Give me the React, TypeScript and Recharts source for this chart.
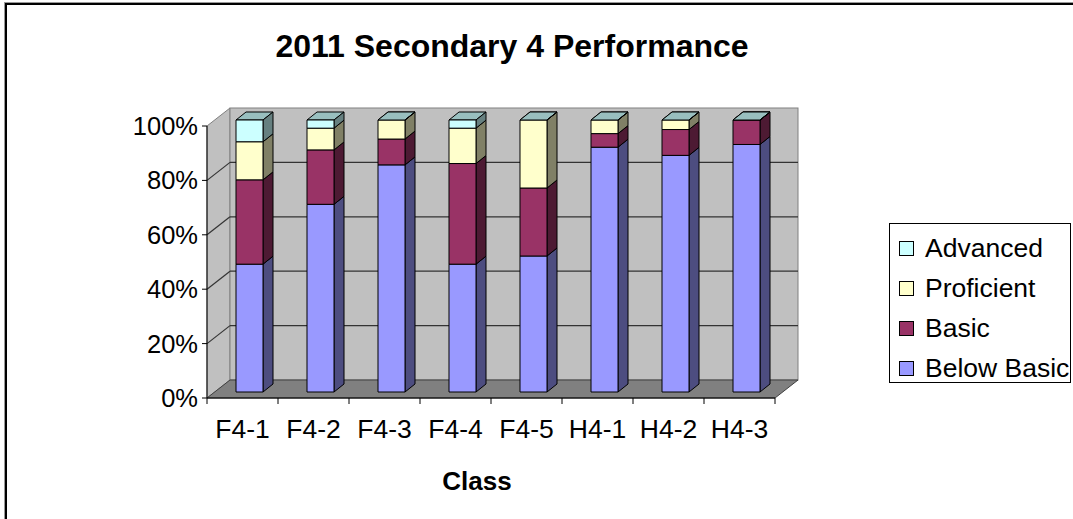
import React from 'react';
import { BarChart, Bar, XAxis, YAxis, ReferenceArea, Legend } from 'recharts';

const classes = ['F4-1', 'F4-2', 'F4-3', 'F4-4', 'F4-5', 'H4-1', 'H4-2', 'H4-3'];
const belowBasic = [47, 69, 83.5, 47, 50, 90, 87, 91];
const basic = [31, 20, 9.5, 37, 25, 5, 9.5, 9];
const proficient = [14, 8, 7, 13, 25, 5, 3.5, 0];
const advanced = [8, 3, 0, 3, 0, 0, 0, 0];
const yTicks = [0, 0.2, 0.4, 0.6, 0.8, 1];

const data = classes.map((cls, i) => ({
  cls,
  belowBasic: belowBasic[i],
  basic: basic[i],
  proficient: proficient[i],
  advanced: advanced[i],
}));

// stack order bottom -> top
const series = [
  { key: 'belowBasic', name: 'Below Basic', fill: '#9999FF', side: '#4D4D80', top: '#7373BF' },
  { key: 'basic', name: 'Basic', fill: '#993366', side: '#4D1A33', top: '#73264D' },
  { key: 'proficient', name: 'Proficient', fill: '#FFFFCC', side: '#808066', top: '#BFBF99' },
  { key: 'advanced', name: 'Advanced', fill: '#CCFFFF', side: '#668080', top: '#99BFBF' },
];

const FONT = '"Liberation Sans", Arial, sans-serif';
const W = 1073;
const H = 519;

// 3d depth of the walls and the boxes
const DX = 23, DY = -18;
const FX = 7, FY = -6;
const BX = 10, BY = -8;

const Box3D = (props: any) => {
  const { x, y, width, height, s } = props;
  if (x == null || y == null) return null;
  const x0 = x + FX, y0 = y + FY, h = Math.max(0, height);
  const x1 = x0 + width;
  return (
    <g stroke="#000" strokeWidth={1} strokeLinejoin="round">
      <polygon
        points={`${x0},${y0} ${x0 + BX},${y0 + BY} ${x1 + BX},${y0 + BY} ${x1},${y0}`}
        fill={s.top}
      />
      <polygon
        points={`${x1},${y0} ${x1 + BX},${y0 + BY} ${x1 + BX},${y0 + h + BY} ${x1},${y0 + h}`}
        fill={s.side}
      />
      {h > 0 && <rect x={x0} y={y0} width={width} height={h} fill={s.fill} />}
    </g>
  );
};

// back wall, side wall, floor and gridlines
const Walls = (props: any) => {
  const { x, y, width: w, height: h } = props;
  const lines = yTicks.filter((t) => t > 0 && t < 1).map((t) => y + h * (1 - t));
  return (
    <g>
      <polygon
        points={`${x},${y} ${x + DX},${y + DY} ${x + DX},${y + h + DY} ${x},${y + h}`}
        fill="#C0C0C0"
        stroke="#808080"
      />
      <rect x={x + DX} y={y + DY} width={w} height={h} fill="#C0C0C0" stroke="#808080" />
      {lines.map((ly, i) => (
        <g key={i} stroke="#333" strokeWidth={1.2}>
          <line x1={x} y1={ly} x2={x + DX} y2={ly + DY} />
          <line x1={x + DX} y1={ly + DY} x2={x + DX + w} y2={ly + DY} />
        </g>
      ))}
      <polygon
        points={`${x},${y + h} ${x + w},${y + h} ${x + w + DX},${y + h + DY} ${x + DX},${y + h + DY}`}
        fill="#808080"
        stroke="#404040"
      />
    </g>
  );
};

const CategoryTick = (props: any) => {
  const { x, y, payload, index } = props;
  const half = payload.offset || 0;
  const axisY = y - 8;
  return (
    <g>
      <line x1={x - half} y1={axisY} x2={x - half} y2={axisY + 6} stroke="#000" />
      {index === classes.length - 1 && (
        <line x1={x + half} y1={axisY} x2={x + half} y2={axisY + 6} stroke="#000" />
      )}
      <text x={x} y={y} dy={32} textAnchor="middle" fill="#000" fontSize={26.5} fontFamily={FONT}>
        {payload.value}
      </text>
    </g>
  );
};

const LegendBox = (props: any) => {
  const payload = props.payload || [];
  // top of the stack first, like the columns
  const items = [...series]
    .reverse()
    .map((s) => payload.find((p: any) => p.dataKey === s.key || p.value === s.name))
    .filter(Boolean);
  return (
    <div
      style={{
        border: '1px solid #000',
        background: '#fff',
        width: 182,
        height: 160,
        boxSizing: 'border-box',
        paddingTop: 4,
        fontFamily: FONT,
      }}
    >
      {items.map((it: any) => (
        <div key={it.value} style={{ display: 'flex', alignItems: 'center', height: 40 }}>
          <span
            style={{
              display: 'inline-block',
              width: 13,
              height: 13,
              background: it.color,
              border: '1px solid #000',
              marginLeft: 9,
              marginRight: 11,
            }}
          />
          <span style={{ fontSize: 26.5, color: '#000', whiteSpace: 'nowrap' }}>{it.value}</span>
        </div>
      ))}
    </div>
  );
};

export default function App() {
  return (
    <div
      style={{
        position: 'absolute',
        left: 0,
        top: 0,
        width: W,
        height: H,
        background: '#fff',
        overflow: 'hidden',
      }}
    >
      <div
        style={{
          position: 'absolute',
          left: 5,
          top: 3,
          width: W + 20,
          height: H + 20,
          borderLeft: '2px solid #000',
          borderTop: '2px solid #000',
          boxShadow: '-1px -1px 0 #999',
        }}
      />
      <div
        style={{
          position: 'absolute',
          left: 0,
          top: 30,
          width: 1024,
          textAlign: 'center',
          fontFamily: FONT,
          fontWeight: 'bold',
          fontSize: 32,
          lineHeight: '32px',
          color: '#000',
        }}
      >
        2011 Secondary 4 Performance
      </div>
      <BarChart
        width={W}
        height={H}
        data={data}
        stackOffset="expand"
        barCategoryGap="31%"
        margin={{ top: 126, right: 298, bottom: 81, left: 127 }}
      >
        <ReferenceArea y1={0} y2={1} shape={<Walls />} />
        <XAxis
          dataKey="cls"
          height={40}
          interval={0}
          axisLine={{ stroke: '#000' }}
          tickLine={false}
          tick={<CategoryTick />}
          label={{
            value: 'Class',
            position: 'bottom',
            offset: 34,
            dx: -14,
            style: { fontFamily: FONT, fontSize: 26, fontWeight: 'bold', fill: '#000' },
          }}
        />
        <YAxis
          width={80}
          domain={[0, 1]}
          ticks={yTicks}
          tickFormatter={(v: number) => `${Math.round(v * 100)}%`}
          axisLine={{ stroke: '#000' }}
          tickLine={{ stroke: '#000' }}
          tickSize={5}
          tickMargin={4}
          tick={{ fill: '#000', fontSize: 25.5, fontFamily: FONT }}
        />
        <Legend
          layout="vertical"
          align="center"
          verticalAlign="middle"
          wrapperStyle={{ left: 889, top: 223, width: 182, height: 160 }}
          content={<LegendBox />}
        />
        {series.map((s) => (
          <Bar
            key={s.key}
            dataKey={s.key}
            name={s.name}
            stackId="a"
            fill={s.fill}
            isAnimationActive={false}
            shape={(p: any) => <Box3D {...p} s={s} />}
          />
        ))}
      </BarChart>
    </div>
  );
}
